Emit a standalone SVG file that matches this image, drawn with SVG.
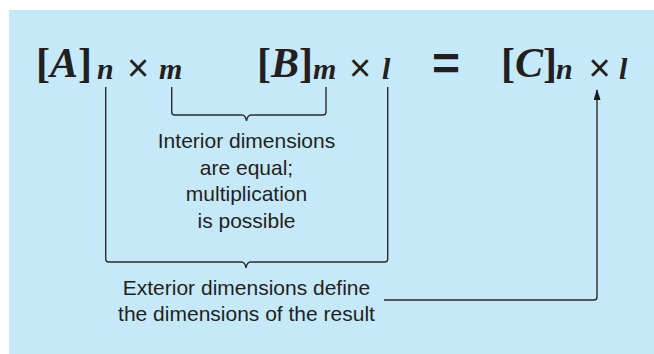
<svg xmlns="http://www.w3.org/2000/svg" width="654" height="354" viewBox="0 0 654 354">
<defs>
<style>
.mat{font-family:"Liberation Serif","Times New Roman",serif;font-weight:bold;font-size:42px;fill:#231f20}
.it{font-style:italic}
.sub{font-family:"Liberation Serif","Times New Roman",serif;font-weight:bold;font-style:italic;font-size:30px;fill:#231f20}
.times{font-family:"Liberation Sans",Arial,sans-serif;font-size:38px;fill:#231f20;text-anchor:middle}
.eq{font-family:"Liberation Sans",Arial,sans-serif;font-weight:bold;font-size:48px;fill:#231f20;text-anchor:middle}
.lbl{font-family:"Liberation Sans",Arial,sans-serif;font-size:21px;fill:#231f20;text-anchor:middle}
.ln{fill:none;stroke:#2b2b2b;stroke-width:1.4}
</style>
<marker id="ah" viewBox="0 0 11 7" refX="10" refY="3.5" markerWidth="11" markerHeight="7" markerUnits="userSpaceOnUse" orient="auto">
<path d="M0,0 L11,3.5 L0,7 Z" fill="#1a1a1a"/>
</marker>
</defs>
<rect x="9" y="10" width="645" height="344" fill="#c6e9f9"/>
<g id="matA">
<text class="mat" x="36" y="77">[<tspan class="it">A</tspan>]</text>
<text class="sub" x="97" y="79">n</text>
<text class="times" x="138" y="81">×</text>
<text class="sub" x="159" y="79">m</text>
</g>
<g id="matB">
<text class="mat" x="257" y="77">[<tspan class="it">B</tspan>]</text>
<text class="sub" x="313" y="79">m</text>
<text class="times" x="360" y="81">×</text>
<text class="sub" x="382" y="79">l</text>
</g>
<g id="equals">
<text class="eq" x="446" y="80">=</text>
</g>
<g id="matC">
<text class="mat" x="501" y="77">[<tspan class="it">C</tspan>]</text>
<text class="sub" x="556" y="79">n</text>
<text class="times" x="599.5" y="81">×</text>
<text class="sub" x="619" y="79">l</text>
</g>
<g id="interior-label">
<text class="lbl" x="246.5" y="148">Interior dimensions</text>
<text class="lbl" x="246.5" y="174.5">are equal;</text>
<text class="lbl" x="246.5" y="201">multiplication</text>
<text class="lbl" x="246.5" y="228">is possible</text>
</g>
<g id="exterior-label">
<text class="lbl" x="246.5" y="295">Exterior dimensions define</text>
<text class="lbl" x="246.5" y="321">the dimensions of the result</text>
</g>
<g id="connectors">
<path class="ln" d="M171.7,87 V112 Q171.7,115 174.7,115 H242 Q245.5,115 246.5,121 Q247.5,115 251,115 H323 Q326,115 326,112 V87"/>
<path class="ln" d="M105.7,87 V259 Q105.7,262 108.7,262 H241.5 Q245,262 246,268 Q247,262 250.5,262 H384.7 Q387.7,262 387.7,259 V87"/>
<path class="ln" d="M384,300 H594 Q597,300 597,297 V90" marker-end="url(#ah)"/>
</g>
</svg>
